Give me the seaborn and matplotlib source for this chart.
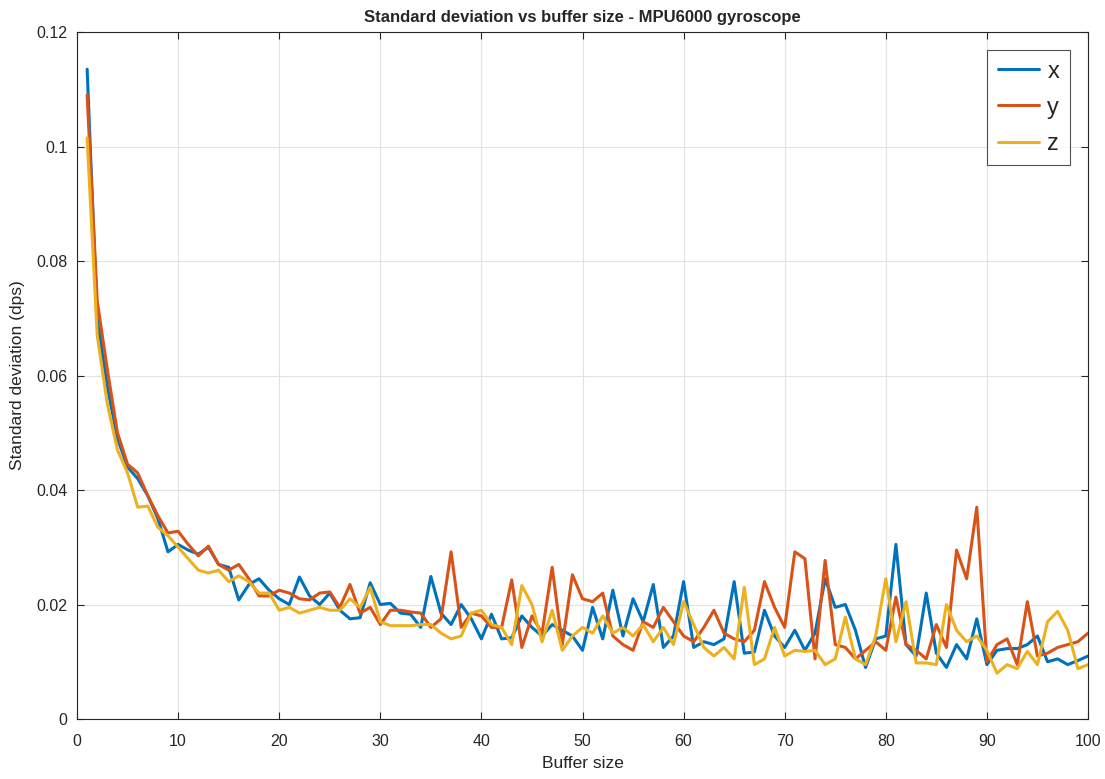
import numpy as np
import pandas as pd
import matplotlib
matplotlib.use("Agg")
import matplotlib.pyplot as plt
import seaborn as sns
from matplotlib.ticker import FuncFormatter
from matplotlib.lines import Line2D

buffer_size = list(range(1, 101))

std_x = [0.1135, 0.070, 0.058, 0.049, 0.044, 0.042, 0.039, 0.035, 0.0292, 0.0305,
         0.0295, 0.0288, 0.030, 0.027, 0.0265, 0.0208, 0.0235, 0.0245, 0.0225, 0.021,
         0.020, 0.0248, 0.0215, 0.020, 0.022, 0.019, 0.0175, 0.0177, 0.0238, 0.020,
         0.0202, 0.0185, 0.0183, 0.016, 0.0249, 0.0185, 0.0165, 0.020, 0.0175, 0.014,
         0.0183, 0.014, 0.0142, 0.018, 0.016, 0.0145, 0.0165, 0.0155, 0.0145, 0.012,
         0.0195, 0.014, 0.0225, 0.0145, 0.021, 0.017, 0.0235, 0.0125, 0.0145, 0.024,
         0.0125, 0.0135, 0.013, 0.014, 0.024, 0.0115, 0.0117, 0.019, 0.0145, 0.0125,
         0.0155, 0.012, 0.015, 0.0245, 0.0195, 0.020, 0.0155, 0.009, 0.014, 0.0145,
         0.0305, 0.013, 0.011, 0.022, 0.0115, 0.009, 0.013, 0.0105, 0.0175, 0.0095,
         0.012, 0.0123, 0.0123, 0.013, 0.0145, 0.010, 0.0105, 0.0095, 0.0102, 0.011]

std_y = [0.109, 0.073, 0.061, 0.050, 0.0445, 0.043, 0.039, 0.0355, 0.0325, 0.0328,
         0.0305, 0.0285, 0.0302, 0.027, 0.026, 0.027, 0.0245, 0.0215, 0.0215, 0.0225,
         0.022, 0.021, 0.0208, 0.022, 0.0222, 0.0195, 0.0235, 0.0185, 0.0195, 0.0165,
         0.019, 0.019, 0.0187, 0.0185, 0.016, 0.0175, 0.0292, 0.016, 0.0185, 0.018,
         0.016, 0.016, 0.0243, 0.0125, 0.018, 0.015, 0.0265, 0.013, 0.0252, 0.021,
         0.0205, 0.022, 0.0145, 0.013, 0.012, 0.017, 0.016, 0.0195, 0.017, 0.0145,
         0.0135, 0.016, 0.019, 0.015, 0.014, 0.0135, 0.0155, 0.024, 0.0195, 0.016,
         0.0292, 0.028, 0.0105, 0.0277, 0.013, 0.0125, 0.0105, 0.012, 0.0135, 0.012,
         0.0213, 0.013, 0.012, 0.0105, 0.0165, 0.0125, 0.0295, 0.0245, 0.037, 0.010,
         0.013, 0.014, 0.0095, 0.0205, 0.011, 0.0115, 0.0125, 0.013, 0.0135, 0.015]

std_z = [0.1015, 0.067, 0.055, 0.047, 0.043, 0.037, 0.0372, 0.0335, 0.032, 0.030,
         0.028, 0.026, 0.0255, 0.026, 0.024, 0.025, 0.024, 0.022, 0.022, 0.019,
         0.0195, 0.0185, 0.019, 0.0195, 0.019, 0.019, 0.021, 0.0195, 0.023, 0.017,
         0.0163, 0.0163, 0.0163, 0.0165, 0.0165, 0.015, 0.014, 0.0145, 0.0185, 0.019,
         0.0165, 0.016, 0.013, 0.0233, 0.020, 0.0135, 0.019, 0.012, 0.0145, 0.016,
         0.015, 0.018, 0.015, 0.016, 0.0145, 0.0165, 0.0135, 0.016, 0.013, 0.0205,
         0.0165, 0.0125, 0.011, 0.0125, 0.0105, 0.023, 0.0095, 0.0105, 0.016, 0.011,
         0.012, 0.0118, 0.012, 0.0095, 0.0105, 0.0178, 0.0105, 0.0095, 0.0145, 0.0245,
         0.0135, 0.0205, 0.0098, 0.0098, 0.0095, 0.020, 0.0155, 0.0135, 0.0145, 0.012,
         0.008, 0.0095, 0.0088, 0.0118, 0.0095, 0.017, 0.0188, 0.0155, 0.0088, 0.0095]

series_names = ["x", "y", "z"]
colors = ["#0072BD", "#D95319", "#EDB120"]

df = pd.concat([
    pd.DataFrame({"Buffer size": buffer_size, "std": vals, "axis": name})
    for name, vals in zip(series_names, [std_x, std_y, std_z])
], ignore_index=True)

sns.set_style("white")
plt.rcParams["font.family"] = ["Liberation Sans", "DejaVu Sans"]

fig = plt.figure(figsize=(11.05, 7.79), dpi=100)
ax = fig.add_axes([0.0697, 0.077, 0.9149, 0.8819])

sns.lineplot(data=df, x="Buffer size", y="std", hue="axis",
             palette=dict(zip(series_names, colors)), linewidth=2.2, ax=ax,
             legend=False)

ax.set_xlim(0, 100)
ax.set_ylim(0, 0.12)
ax.set_xticks(np.arange(0, 101, 10))
ax.set_yticks(np.arange(0, 0.121, 0.02))
ax.yaxis.set_major_formatter(FuncFormatter(lambda v, p: "%g" % round(v, 4)))
ax.grid(True, color="#e3e3e3", linewidth=0.8)
ax.set_axisbelow(True)
for s in ax.spines.values():
    s.set_visible(True)
    s.set_color("#262626")
    s.set_linewidth(0.8)
ax.tick_params(direction="in", length=5, width=0.8, colors="#262626",
               labelsize=11.5, top=True, right=True, bottom=True, left=True,
               labeltop=False, labelright=False)
ax.tick_params(axis="x", pad=11)
ax.tick_params(axis="y", pad=7)
ax.set_xlabel("Buffer size", fontsize=12.5, color="#262626", labelpad=5)
ax.set_ylabel("Standard deviation (dps)", fontsize=12.5, color="#262626", labelpad=8)
ax.set_title("Standard deviation vs buffer size - MPU6000 gyroscope",
             fontsize=12, fontweight="bold", pad=7)

handles = [Line2D([], [], color=c, linewidth=2.2) for c in colors]
leg = ax.legend(handles, series_names, loc="upper right", fontsize=17,
                frameon=True, fancybox=False, edgecolor="#262626",
                handlelength=1.75, handletextpad=0.35, borderpad=0.45,
                labelspacing=0.6, borderaxespad=0,
                bbox_to_anchor=(0.982, 0.974))
leg.get_frame().set_linewidth(0.8)

fig.savefig("out.png", dpi=100)
